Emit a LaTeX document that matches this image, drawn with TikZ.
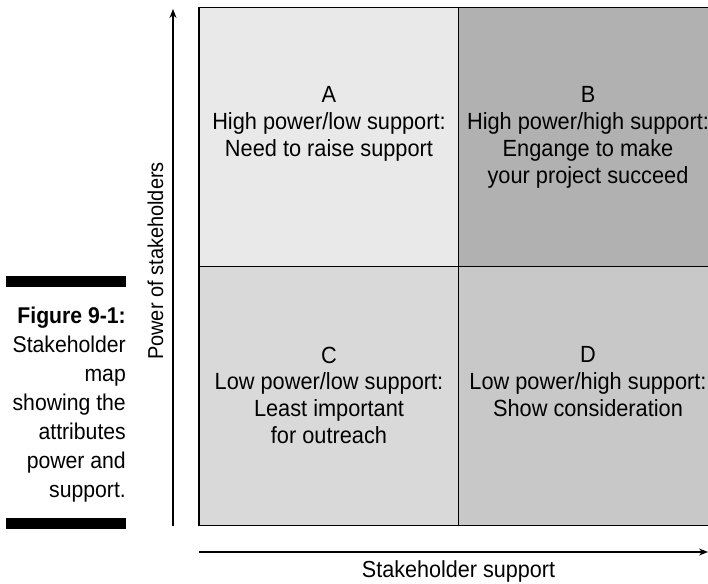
\documentclass[tikz,border=0pt]{standalone}
\usepackage{fontspec}
\setmainfont{Liberation Sans}[FakeStretch=0.93]
\usetikzlibrary{arrows.meta}
\definecolor{qAcol}{gray}{0.914}
\definecolor{qBcol}{gray}{0.694}
\definecolor{qCcol}{gray}{0.851}
\definecolor{qDcol}{gray}{0.784}
\begin{document}
\begin{tikzpicture}[x=1pt,y=-1pt,
  quad/.style={draw=black, line width=1.3pt, rectangle, inner sep=0pt, outer sep=0pt,
    minimum width=259.5pt, minimum height=259pt, anchor=north west},
  qtext/.style={align=center, anchor=north, inner sep=0pt, font=\fontsize{23.4}{26.8}\selectfont},
  axlabel/.style={anchor=base, inner sep=0pt},
  axis/.style={line width=1.2pt, -{Stealth[length=9pt,width=7pt]}},
  bar/.style={fill=black, draw=none}
]
\useasboundingbox (0,0) rectangle (708,583);
% quadrants
\node[quad, fill=qAcol] (qa) at (199,7.5) {};
\node[quad, fill=qBcol] (qb) at (458.5,7.5) {};
\node[quad, fill=qCcol] (qc) at (199,266.5) {};
\node[quad, fill=qDcol] (qd) at (458.5,266.5) {};
% quadrant texts
\node[qtext] (ta) at (329,86.5) {A\\High power/low support:\\Need to raise support};
\node[qtext] (tb) at (588,86.5) {B\\High power/high support:\\Engange to make\\your project succeed};
\node[qtext] (tc) at (329,346.5) {C\\Low power/low support:\\Least important\\for outreach};
\node[qtext] (td) at (588,346.5) {D\\Low power/high support:\\Show consideration};
% axes
\coordinate (vstart) at (173,525.5);
\coordinate (vend) at (173,9);
\coordinate (hstart) at (199,552);
\coordinate (hend) at (708,552);
\draw[axis] (vstart) -- (vend);
\draw[axis] (hstart) -- (hend);
\node[axlabel, rotate=90, font=\fontsize{21.5}{26}\selectfont] (ylab) at (163,261) {Power of stakeholders};
\node[axlabel, font=\fontsize{23.2}{27}\selectfont] (xlab) at (458.5,577.5) {Stakeholder support};
% caption
\fill[bar] (6,276) rectangle (126,286.5);
\fill[bar] (6,518) rectangle (126,529);
\node[align=right, anchor=north east, inner sep=0pt,
  font=\fontsize{22.8}{29.1}\selectfont] (cap) at (126,306.5)
  {\textbf{Figure 9-1:}\\Stakeholder\\map\\showing the\\attributes\\power and\\support.};
\end{tikzpicture}
\end{document}
